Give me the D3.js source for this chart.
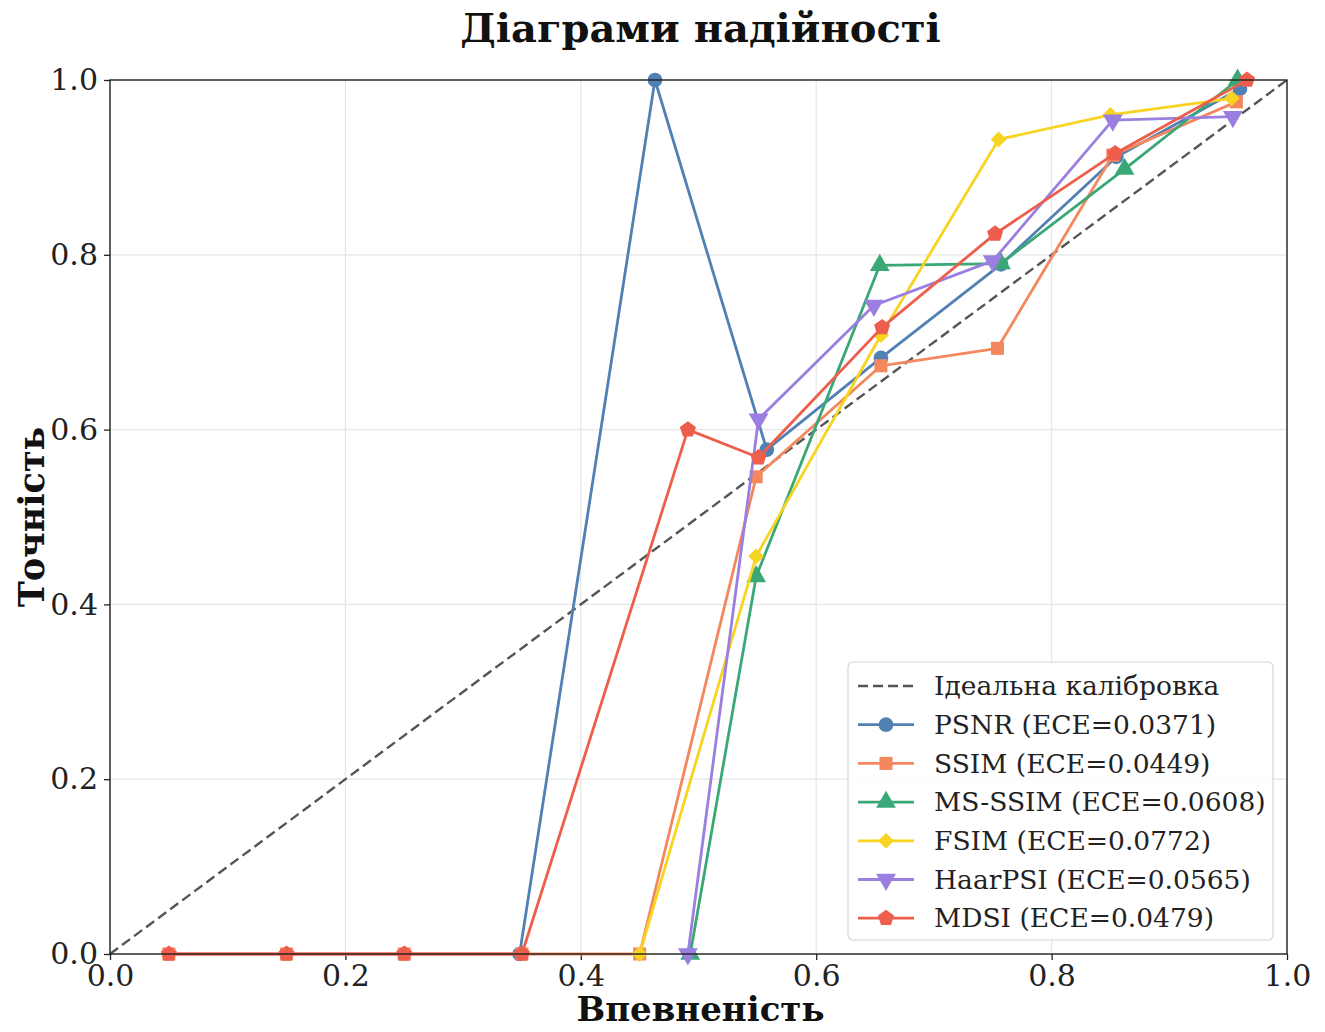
<!DOCTYPE html>
<html>
<head>
<meta charset="utf-8">
<script src="https://cdn.jsdelivr.net/npm/d3@7"></script>
<style>
  html, body { margin: 0; padding: 0; background: #fff; }
  text { font-family: "DejaVu Serif", serif; }
</style>
</head>
<body>
<svg id="chart" width="1325" height="1032"></svg>
<script>
// Reliability diagram: mean confidence per bin vs. accuracy per bin, for six IQA metrics.
const metricNames = ["PSNR", "SSIM", "MS-SSIM", "FSIM", "HaarPSI", "MDSI"];
const eceValues = [0.0371, 0.0449, 0.0608, 0.0772, 0.0565, 0.0479];

const confPSNR = [0.348, 0.463, 0.558, 0.655, 0.757, 0.855, 0.960];
const accPSNR  = [0.000, 1.000, 0.577, 0.682, 0.789, 0.912, 0.990];

const confSSIM = [0.05, 0.15, 0.25, 0.35, 0.45, 0.549, 0.655, 0.754, 0.852, 0.957];
const accSSIM  = [0.00, 0.00, 0.00, 0.00, 0.00, 0.546, 0.673, 0.693, 0.914, 0.975];

const confMSSSIM = [0.493, 0.549, 0.654, 0.757, 0.862, 0.958];
const accMSSSIM  = [0.000, 0.432, 0.788, 0.790, 0.898, 1.000];

const confFSIM = [0.450, 0.549, 0.655, 0.755, 0.850, 0.953];
const accFSIM  = [0.000, 0.455, 0.708, 0.932, 0.960, 0.979];

const confHaarPSI = [0.491, 0.551, 0.649, 0.750, 0.852, 0.954];
const accHaarPSI  = [0.000, 0.612, 0.742, 0.793, 0.954, 0.958];

const confMDSI = [0.05, 0.15, 0.25, 0.35, 0.491, 0.551, 0.656, 0.752, 0.854, 0.966];
const accMDSI  = [0.00, 0.00, 0.00, 0.00, 0.600, 0.568, 0.717, 0.824, 0.916, 1.000];

const tickValues = [0.0, 0.2, 0.4, 0.6, 0.8, 1.0];

const titleText = "Діаграми надійності";
const xLabelText = "Впевненість";
const yLabelText = "Точність";
const idealLabel = "Ідеальна калібровка";

// pentagon symbol for MDSI
const symbolPentagon = {
  draw(context, size) {
    const r = Math.sqrt(size / 2.378);
    for (let i = 0; i < 5; i++) {
      const a = -Math.PI / 2 + i * 2 * Math.PI / 5;
      const px = r * Math.cos(a), py = r * Math.sin(a);
      if (i === 0) context.moveTo(px, py); else context.lineTo(px, py);
    }
    context.closePath();
  }
};

const series = [
  { conf: confPSNR,    acc: accPSNR,    color: "#5181b3", symbol: d3.symbolCircle,   rot: 0 },
  { conf: confSSIM,    acc: accSSIM,    color: "#f5875f", symbol: d3.symbolSquare,   rot: 0 },
  { conf: confMSSSIM,  acc: accMSSSIM,  color: "#3aa876", symbol: d3.symbolTriangle, rot: 0 },
  { conf: confFSIM,    acc: accFSIM,    color: "#f6d421", symbol: d3.symbolSquare,   rot: 45 },
  { conf: confHaarPSI, acc: accHaarPSI, color: "#9a7fe0", symbol: d3.symbolTriangle, rot: 180 },
  { conf: confMDSI,    acc: accMDSI,    color: "#ee5e4c", symbol: symbolPentagon,    rot: 0 }
];
series.forEach((s, i) => { s.label = `${metricNames[i]} (ECE=${eceValues[i].toFixed(4)})`; });

const svg = d3.select("#chart");
const W = 1325, H = 1032;
const margin = { left: 110, right: W - 1287, top: 80, bottom: H - 954 };
const x = d3.scaleLinear().domain([0, 1]).range([margin.left, W - margin.right]);
const y = d3.scaleLinear().domain([0, 1]).range([H - margin.bottom, margin.top]);

// grid
const grid = svg.append("g");
grid.selectAll("line.gx").data(tickValues).join("line")
  .attr("x1", d => x(d)).attr("x2", d => x(d))
  .attr("y1", y(0)).attr("y2", y(1))
  .attr("stroke", "#e6e6e6").attr("stroke-width", 1.2);
grid.selectAll("line.gy").data(tickValues).join("line")
  .attr("x1", x(0)).attr("x2", x(1))
  .attr("y1", d => y(d)).attr("y2", d => y(d))
  .attr("stroke", "#e6e6e6").attr("stroke-width", 1.2);

// axes
const fmt = d3.format(".1f");
const xAxis = svg.append("g").attr("transform", `translate(0,${y(0)})`)
  .call(d3.axisBottom(x).tickValues(tickValues).tickFormat(fmt).tickSize(6).tickPadding(5));
const yAxis = svg.append("g").attr("transform", `translate(${x(0)},0)`)
  .call(d3.axisLeft(y).tickValues(tickValues).tickFormat(fmt).tickSize(6).tickPadding(6));
[xAxis, yAxis].forEach(a => {
  a.select(".domain").remove();
  a.selectAll(".tick line").attr("stroke", "#222").attr("stroke-width", 1.3);
  a.selectAll(".tick text").attr("font-family", "DejaVu Serif").attr("font-size", 30).attr("fill", "#222");
});

// ideal calibration diagonal
svg.append("line")
  .attr("x1", x(0)).attr("y1", y(0)).attr("x2", x(1)).attr("y2", y(1))
  .attr("stroke", "#555").attr("stroke-width", 2.4).attr("stroke-dasharray", "10,5");

// series lines and markers
const line = d3.line().x(d => x(d[0])).y(d => y(d[1]));
const markerSize = s => (s.rot === 45 ? 125 : 170);
series.forEach(s => {
  const pts = s.conf.map((c, i) => [c, s.acc[i]]);
  const g = svg.append("g");
  g.append("path").datum(pts).attr("d", line)
    .attr("fill", "none").attr("stroke", s.color).attr("stroke-width", 2.8)
    .attr("stroke-linejoin", "round");
  g.selectAll("path.m").data(pts).join("path")
    .attr("class", "m")
    .attr("d", d3.symbol().type(s.symbol).size(markerSize(s)))
    .attr("transform", d => `translate(${x(d[0])},${y(d[1])}) rotate(${s.rot})`)
    .attr("fill", s.color);
});

// frame
svg.append("rect")
  .attr("x", x(0)).attr("y", y(1)).attr("width", x(1) - x(0)).attr("height", y(0) - y(1))
  .attr("fill", "none").attr("stroke", "#222").attr("stroke-width", 1.4);

// title and axis labels
svg.append("text").attr("x", (x(0) + x(1)) / 2 + 2).attr("y", 42)
  .attr("text-anchor", "middle").attr("font-size", 40).attr("font-weight", "bold")
  .attr("fill", "#111").text(titleText);
svg.append("text").attr("x", (x(0) + x(1)) / 2 + 2).attr("y", 1021)
  .attr("text-anchor", "middle").attr("font-size", 34).attr("font-weight", "bold")
  .attr("fill", "#111").text(xLabelText);
svg.append("text").attr("transform", `translate(44,${(y(0) + y(1)) / 2}) rotate(-90)`)
  .attr("text-anchor", "middle").attr("font-size", 35).attr("font-weight", "bold")
  .attr("fill", "#111").text(yLabelText);

// legend
const lg = svg.append("g").attr("transform", "translate(848,662)");
lg.append("rect").attr("width", 425).attr("height", 278).attr("rx", 5)
  .attr("fill", "#fff").attr("fill-opacity", 0.85).attr("stroke", "#d5d5d5").attr("stroke-width", 1.2);
const rowY = i => 24 + i * 38.7;
lg.append("line").attr("x1", 10).attr("x2", 66).attr("y1", rowY(0)).attr("y2", rowY(0))
  .attr("stroke", "#555").attr("stroke-width", 2.4).attr("stroke-dasharray", "10,5");
lg.append("text").attr("x", 86).attr("y", rowY(0)).attr("dy", "0.35em")
  .attr("font-size", 26.5).attr("fill", "#222").text(idealLabel);
series.forEach((s, i) => {
  const yy = rowY(i + 1);
  lg.append("line").attr("x1", 10).attr("x2", 66).attr("y1", yy).attr("y2", yy)
    .attr("stroke", s.color).attr("stroke-width", 2.8);
  lg.append("path").attr("d", d3.symbol().type(s.symbol).size(markerSize(s)))
    .attr("transform", `translate(38,${yy}) rotate(${s.rot})`).attr("fill", s.color);
  lg.append("text").attr("x", 86).attr("y", yy).attr("dy", "0.35em")
    .attr("font-size", 26.5).attr("fill", "#222").text(s.label);
});
</script>
</body>
</html>
